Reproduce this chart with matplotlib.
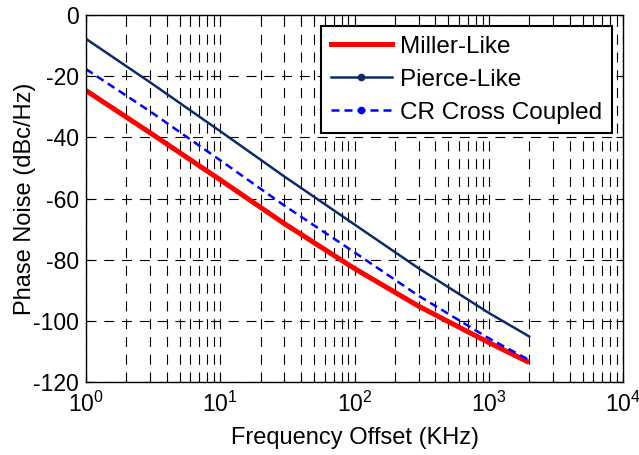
import numpy as np
import matplotlib
matplotlib.use("Agg")
import matplotlib.pyplot as plt
from matplotlib.lines import Line2D

plt.rcParams['font.family'] = ['Liberation Sans', 'DejaVu Sans']
plt.rcParams['mathtext.fontset'] = 'custom'
plt.rcParams['mathtext.rm'] = 'Liberation Sans'
plt.rcParams['axes.unicode_minus'] = False

# frequency offsets (KHz) and phase noise
freq = [1, 3, 10, 30, 100, 300, 1000, 2000]
miller = [-24.7, -38.5, -53.9, -68.2, -82.9, -95.2, -107.1, -113.6]
pierce = [-7.8, -22.0, -38.0, -52.8, -68.5, -82.8, -97.4, -105.1]
cr_cross = [-17.7, -31.5, -47.5, -62.3, -77.6, -91.8, -105.7, -112.8]

labels = ['Miller-Like', 'Pierce-Like', 'CR Cross Coupled']
navy = '#0f2a6b'
blue_dash = (0, (3.2, 2.0))

fig = plt.figure(figsize=(6.39, 4.55), dpi=100)
ax = fig.add_axes([0.1346, 0.1604, 0.8404, 0.8066])

ax.semilogx(freq, miller, color='red', lw=3.6, solid_capstyle='butt')
ax.semilogx(freq, pierce, color=navy, lw=1.8)
ax.semilogx(freq, cr_cross, color='blue', lw=1.8, ls=blue_dash)

ax.set_xlim(1, 1e4)
ax.set_ylim(-120, 0)
ax.set_yticks(np.arange(-120, 1, 20))

dash = (0, (9, 7))
ax.grid(True, which='major', color='black', lw=0.8, ls=dash)
ax.grid(True, which='minor', axis='x', color='black', lw=0.8, ls=dash)

ax.tick_params(which='both', direction='in', top=True, right=True, labelsize=16.5)
ax.tick_params(which='major', length=5, width=0.8)
ax.tick_params(which='minor', length=3, width=0.8)
ax.tick_params(axis='x', which='major', pad=7)
ax.tick_params(axis='y', which='major', pad=5)
for s in ax.spines.values():
    s.set_linewidth(1.0)

ax.set_xlabel('Frequency Offset (KHz)', fontsize=17)
ax.set_ylabel('Phase Noise (dBc/Hz)', fontsize=17)
ax.xaxis.set_label_coords(0.5, -0.122)
ax.yaxis.set_label_coords(-0.093, 0.5)

handles = [
    Line2D([], [], color='red', lw=3.6),
    Line2D([], [], color=navy, lw=1.8, marker='.', markersize=9),
    Line2D([], [], color='blue', lw=1.8, ls=blue_dash, marker='.', markersize=9),
]
leg = ax.legend(handles, labels, loc='upper right', fontsize=17.5, frameon=True,
                fancybox=False, framealpha=1, edgecolor='black',
                handlelength=2.5, borderpad=0.4, labelspacing=0.45,
                borderaxespad=0.45, handletextpad=0.35)
leg.get_frame().set_linewidth(1.5)

fig.savefig('out.png', dpi=100)
